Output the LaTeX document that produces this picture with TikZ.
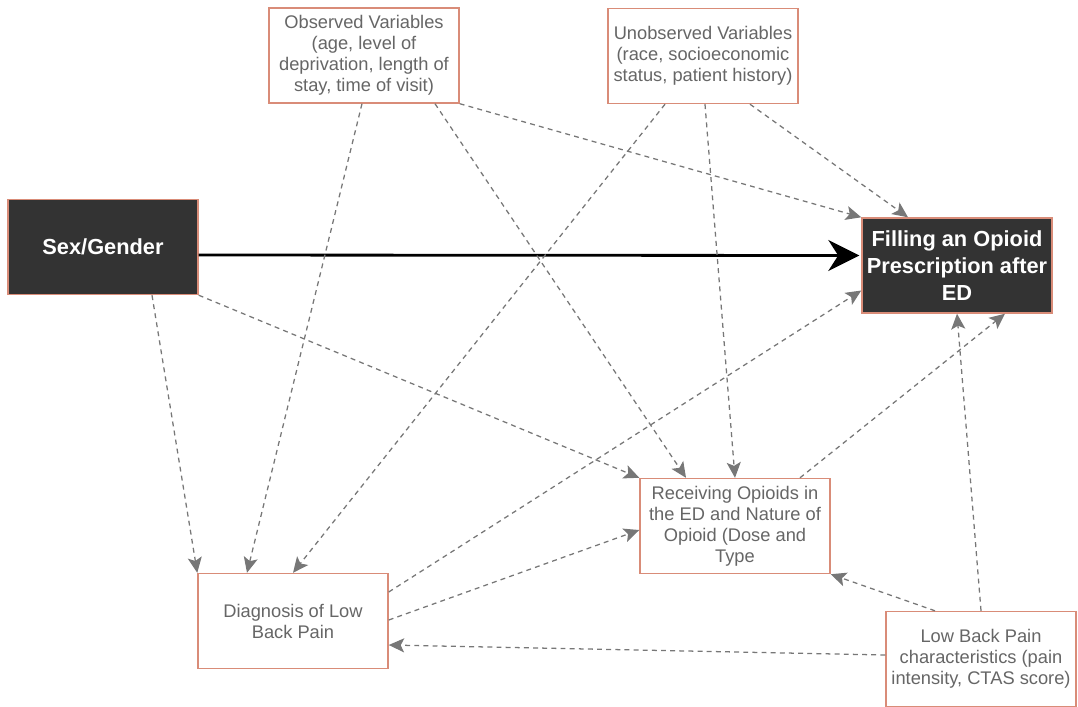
\documentclass[tikz,border=0pt]{standalone}
\usepackage{fontspec}
\setmainfont{Liberation Sans}
\usetikzlibrary{arrows.meta,calc}
\definecolor{boxline}{HTML}{D98C78}
\definecolor{darkfill}{HTML}{333333}
\definecolor{labelgray}{HTML}{666666}
\definecolor{edgegray}{HTML}{777777}
\tikzset{
  factor/.style={draw=boxline, line width=1pt, fill=white, text=labelgray, align=center,
    minimum width=4.75cm, minimum height=2.375cm, inner sep=1pt, font=\fontsize{13}{15}\selectfont},
  outcome/.style={factor, fill=darkfill, text=white, font=\bfseries\fontsize{15.5}{19}\selectfont},
  dagedge/.style={draw=edgegray, line width=0.9pt, dash pattern=on 3.5pt off 3pt,
    -{Stealth[length=11pt,width=10pt,inset=2.5pt]}},
  mainedge/.style={draw=black, line width=2pt, -{Stealth[length=22pt,width=22pt,inset=7pt]}}
}
\begin{document}
\begin{tikzpicture}[x=0.025cm, y=-0.025cm]

      \useasboundingbox (0,0) rectangle (1078,706);

      \node[factor] (obs) at (364,55.5) {Observed Variables\\(age, level of\\deprivation, length of\\stay, time of visit)};
      \node[factor] (unobs) at (703,56) {Unobserved Variables\\(race, socioeconomic\\status, patient history)};
      \node[outcome] (sex) at (103,247) {Sex/Gender};
      \node[outcome] (fill) at (957,265.5) {Filling an Opioid\\Prescription after\\ED};
      \node[factor] (recv) at (735,526) {Receiving Opioids in\\the ED and Nature of\\Opioid (Dose and\\Type};
      \node[factor] (diag) at (293,621) {Diagnosis of Low\\Back Pain};
      \node[factor] (lbp) at (981,659) {Low Back Pain\\characteristics (pain\\intensity, CTAS score)};

      \draw[mainedge] ($(sex.east)+(0,8)$) -- ($(fill.west)+(-2,-10)$);

      \draw[dagedge] ($(sex.south)+(49,0)$) -- (diag.north west);
      \draw[dagedge] (sex.south east) -- (recv.north west);
      \draw[dagedge] ($(obs.south)+(-2,0)$) -- ($(diag.north)+(-46,0)$);
      \draw[dagedge] ($(obs.south)+(71,0)$) -- ($(recv.north)+(-49,0)$);
      \draw[dagedge] (obs.south east) -- (fill.north west);
      \draw[dagedge] ($(unobs.south)+(-38,0)$) -- (diag.north);
      \draw[dagedge] ($(unobs.south)+(2,0)$) -- (recv.north);
      \draw[dagedge] ($(unobs.south)+(47,0)$) -- ($(fill.north)+(-49,0)$);
      \draw[dagedge] ($(diag.east)+(0,-29)$) -- ($(fill.west)+(0,25)$);
      \draw[dagedge] ($(diag.east)+(0,-1)$) -- ($(recv.west)+(0,4)$);
      \draw[dagedge] ($(recv.north)+(65,0)$) -- ($(fill.south)+(48,0)$);
      \draw[dagedge] ($(lbp.north)+(-46,0)$) -- (recv.south east);
      \draw[dagedge] ($(lbp.west)+(0,-4)$) -- ($(diag.east)+(0,24)$);
      \draw[dagedge] (lbp.north) -- (fill.south);

    \end{tikzpicture}
\end{document}
